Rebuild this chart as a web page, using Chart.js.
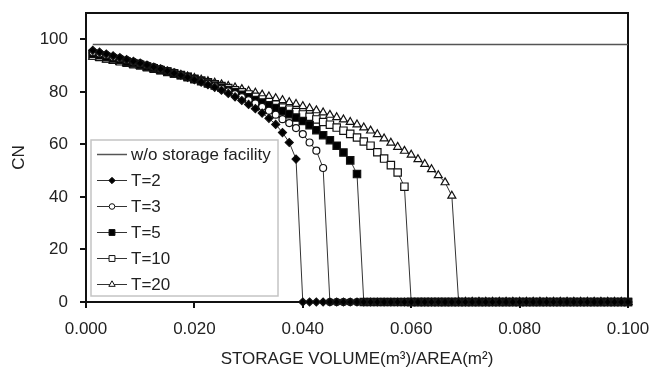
<!DOCTYPE html>
<html>
<head>
<meta charset="utf-8">
<script src="https://cdn.jsdelivr.net/npm/chart.js@4"></script>
<style>
html, body { margin: 0; padding: 0; background: #fff; }
#wrap { width: 649px; height: 367px; }
</style>
</head>
<body>
<div id="wrap"><canvas id="cnChart" width="649" height="367"></canvas></div>
<script>
// storage volume / area (m3/m2), one value per computed point
var volume = [
    0.00125, 0.0025, 0.00375, 0.005, 0.00625, 0.0075, 0.00875, 0.01, 0.01125, 0.0125,
    0.01375, 0.015, 0.01625, 0.0175, 0.01875, 0.02, 0.02125, 0.0225, 0.02375, 0.025,
    0.02625, 0.0275, 0.02875, 0.03, 0.03125, 0.0325, 0.03375, 0.035, 0.03625, 0.0375,
    0.03875, 0.04, 0.04125, 0.0425, 0.04375, 0.045, 0.04625, 0.0475, 0.04875, 0.05,
    0.05125, 0.0525, 0.05375, 0.055, 0.05625, 0.0575, 0.05875, 0.06, 0.06125, 0.0625,
    0.06375, 0.065, 0.06625, 0.0675, 0.06875, 0.07, 0.07125, 0.0725, 0.07375, 0.075,
    0.07625, 0.0775, 0.07875, 0.08, 0.08125, 0.0825, 0.08375, 0.085, 0.08625, 0.0875,
    0.08875, 0.09, 0.09125, 0.0925, 0.09375, 0.095, 0.09625, 0.0975, 0.09875, 0.1
];

var noStorageVolume = [0.00125, 0.1];
var cnNoStorage = [98, 98];

var cnT2 = [
    95.8, 95.1, 94.4, 93.7, 93.0, 92.3, 91.6, 90.9, 90.2, 89.4,
    88.7, 87.9, 87.1, 86.3, 85.5, 84.6, 83.7, 82.7, 81.7, 80.6,
    79.4, 78.1, 76.7, 75.2, 73.6, 71.9, 69.9, 67.6, 64.5, 60.7,
    54.4, 0, 0, 0, 0, 0, 0, 0, 0, 0,
    0, 0, 0, 0, 0, 0, 0, 0, 0, 0,
    0, 0, 0, 0, 0, 0, 0, 0, 0, 0,
    0, 0, 0, 0, 0, 0, 0, 0, 0, 0,
    0, 0, 0, 0, 0, 0, 0, 0, 0, 0
];
var cnT3 = [
    95.2, 94.6, 94.0, 93.3, 92.7, 92.1, 91.4, 90.8, 90.1, 89.4,
    88.7, 88.0, 87.3, 86.5, 85.7, 84.8, 84.0, 83.1, 82.2, 81.2,
    80.2, 79.1, 78.0, 76.8, 75.6, 74.3, 72.8, 71.3, 69.6, 68.1,
    66.2, 63.9, 60.7, 57.6, 51.0, 0, 0, 0, 0, 0,
    0, 0, 0, 0, 0, 0, 0, 0, 0, 0,
    0, 0, 0, 0, 0, 0, 0, 0, 0, 0,
    0, 0, 0, 0, 0, 0, 0, 0, 0, 0,
    0, 0, 0, 0, 0, 0, 0, 0, 0, 0
];
var cnT5 = [
    94.5, 93.9, 93.3, 92.7, 92.1, 91.5, 90.9, 90.3, 89.6, 89.0,
    88.3, 87.7, 87.0, 86.3, 85.6, 84.8, 84.0, 83.2, 82.4, 81.6,
    80.7, 79.8, 78.9, 77.9, 76.9, 75.9, 74.9, 73.8, 72.7, 71.5,
    70.2, 68.9, 67.3, 65.4, 63.5, 61.6, 59.5, 56.9, 53.9, 48.7,
    0, 0, 0, 0, 0, 0, 0, 0, 0, 0,
    0, 0, 0, 0, 0, 0, 0, 0, 0, 0,
    0, 0, 0, 0, 0, 0, 0, 0, 0, 0,
    0, 0, 0, 0, 0, 0, 0, 0, 0, 0
];
var cnT10 = [
    93.8, 93.3, 92.7, 92.2, 91.6, 91.1, 90.5, 90.0, 89.4, 88.8,
    88.2, 87.6, 87.0, 86.4, 85.7, 85.0, 84.3, 83.6, 82.9, 82.2,
    81.4, 80.6, 79.8, 79.0, 78.1, 77.1, 76.1, 75.1, 74.0, 73.2,
    72.3, 71.4, 70.5, 69.5, 68.5, 67.5, 66.4, 65.2, 64.0, 62.6,
    61.1, 59.5, 57.0, 54.6, 52.1, 49.3, 43.9, 0, 0, 0,
    0, 0, 0, 0, 0, 0, 0, 0, 0, 0,
    0, 0, 0, 0, 0, 0, 0, 0, 0, 0,
    0, 0, 0, 0, 0, 0, 0, 0, 0, 0
];
var cnT20 = [
    93.3, 92.8, 92.3, 91.8, 91.3, 90.8, 90.3, 89.8, 89.2, 88.7,
    88.1, 87.6, 87.0, 86.4, 85.8, 85.2, 84.6, 84.0, 83.4, 82.8,
    82.2, 81.6, 81.0, 80.3, 79.6, 78.9, 78.2, 77.5, 76.8, 76.0,
    75.3, 74.5, 73.7, 72.9, 72.1, 71.2, 70.3, 69.4, 68.5, 67.5,
    66.4, 65.2, 63.8, 62.2, 60.6, 59.0, 57.5, 56.0, 54.3, 52.5,
    50.5, 48.2, 45.5, 40.4, 0, 0, 0, 0, 0, 0,
    0, 0, 0, 0, 0, 0, 0, 0, 0, 0,
    0, 0, 0, 0, 0, 0, 0, 0, 0, 0
];

var seriesLabels = ['w/o storage facility', 'T=2', 'T=3', 'T=5', 'T=10', 'T=20'];
var xTitle = 'STORAGE VOLUME(m\u00b3)/AREA(m\u00b2)';
var yTitle = 'CN';

function toPoints(xs, ys) {
    'use strict';
    return xs.map(function (x, i) { return {x: x, y: ys[i]}; });
}

function markerSet(label, values, style, radius, fill) {
    'use strict';
    return {
        label: label,
        data: toPoints(volume, values),
        showLine: true,
        clip: false,
        borderColor: '#333',
        borderWidth: 1,
        pointStyle: style,
        pointRadius: radius,
        pointBackgroundColor: fill,
        pointBorderColor: '#111',
        pointBorderWidth: 1.2
    };
}

// legend drawn as a box inside the lower left of the plot
var boxLegend = {
    id: 'boxLegend',
    afterDatasetsDraw: function (chart) {
        'use strict';
        var ctx = chart.ctx;
        var area = chart.chartArea;
        var left = area.left + 5, top = area.top + 127;
        var w = 187, h = 156;
        ctx.save();
        ctx.fillStyle = '#fff';
        ctx.fillRect(left, top, w, h);
        ctx.strokeStyle = '#c4c4c4';
        ctx.lineWidth = 1.5;
        ctx.strokeRect(left, top, w, h);
        ctx.font = '17px Arial, "Liberation Sans", sans-serif';
        ctx.textBaseline = 'middle';
        chart.data.datasets.forEach(function (ds, i) {
            var y = top + 14.5 + i * 26;
            ctx.strokeStyle = ds.borderColor;
            ctx.lineWidth = ds.borderWidth;
            ctx.beginPath();
            ctx.moveTo(left + 6, y);
            ctx.lineTo(left + 36, y);
            ctx.stroke();
            if (ds.pointRadius > 0) {
                ctx.fillStyle = ds.pointBackgroundColor;
                ctx.strokeStyle = ds.pointBorderColor;
                ctx.lineWidth = 1;
                Chart.helpers.drawPoint(ctx, {
                    pointStyle: ds.pointStyle,
                    radius: ds.pointRadius * 0.8,
                    borderWidth: 1,
                    rotation: 0
                }, left + 21, y);
            }
            ctx.fillStyle = '#222';
            ctx.fillText(ds.label, left + 40, y + 1);
        });
        ctx.restore();
    }
};

var frameBox = {
    id: 'frameBox',
    beforeDatasetsDraw: function (chart) {
        'use strict';
        var a = chart.chartArea;
        var ctx = chart.ctx;
        ctx.save();
        ctx.strokeStyle = '#111';
        ctx.lineWidth = 2;
        ctx.strokeRect(a.left, a.top, a.right - a.left, a.bottom - a.top);
        ctx.restore();
    }
};

Chart.defaults.font.family = 'Arial, "Liberation Sans", sans-serif';
Chart.defaults.color = '#222';

var ctx = document.getElementById('cnChart');

var cnChart = new Chart(ctx, {
    type: 'scatter',
    data: {
        datasets: [
            {
                label: seriesLabels[0],
                data: toPoints(noStorageVolume, cnNoStorage),
                showLine: true,
                borderColor: '#555',
                borderWidth: 1.5,
                pointRadius: 0
            },
            markerSet(seriesLabels[1], cnT2, 'rectRot', 4, '#000'),
            markerSet(seriesLabels[2], cnT3, 'circle', 3.5, '#fff'),
            markerSet(seriesLabels[3], cnT5, 'rect', 5.2, '#000'),
            markerSet(seriesLabels[4], cnT10, 'rect', 5.2, '#fff'),
            markerSet(seriesLabels[5], cnT20, 'triangle', 4.6, '#fff')
        ]
    },
    options: {
        responsive: false,
        animation: false,
        layout: {padding: {top: 13, right: 21, left: 0, bottom: 0}},
        plugins: {
            legend: {display: false},
            tooltip: {enabled: false}
        },
        scales: {
            x: {
                type: 'linear',
                min: 0,
                max: 0.1,
                ticks: {
                    stepSize: 0.02,
                    font: {size: 17},
                    padding: 11,
                    maxRotation: 0,
                    callback: function (v) { return v.toFixed(3); }
                },
                grid: {drawOnChartArea: false, tickLength: 6, color: '#111', lineWidth: 2},
                border: {color: '#111', width: 2},
                title: {display: true, text: xTitle, font: {size: 17}, padding: {top: 0, bottom: -3}},
                afterFit: function (scale) {
                    scale.height = 65;
                    scale.paddingLeft = 0;
                    scale.paddingRight = 0;
                }
            },
            y: {
                min: 0,
                max: 110,
                ticks: {stepSize: 20, font: {size: 17}, padding: 12},
                afterBuildTicks: function (scale) {
                    scale.ticks = scale.ticks.filter(function (t) { return t.value <= 100; });
                },
                grid: {drawOnChartArea: false, tickLength: 6, color: '#111', lineWidth: 2},
                border: {color: '#111', width: 2},
                title: {display: true, text: yTitle, font: {size: 17}, padding: {top: 9, bottom: 0}},
                afterFit: function (scale) {
                    scale.width = 86;
                    scale.paddingTop = 0;
                    scale.paddingBottom = 0;
                }
            }
        }
    },
    plugins: [boxLegend, frameBox]
});
</script>
</body>
</html>
